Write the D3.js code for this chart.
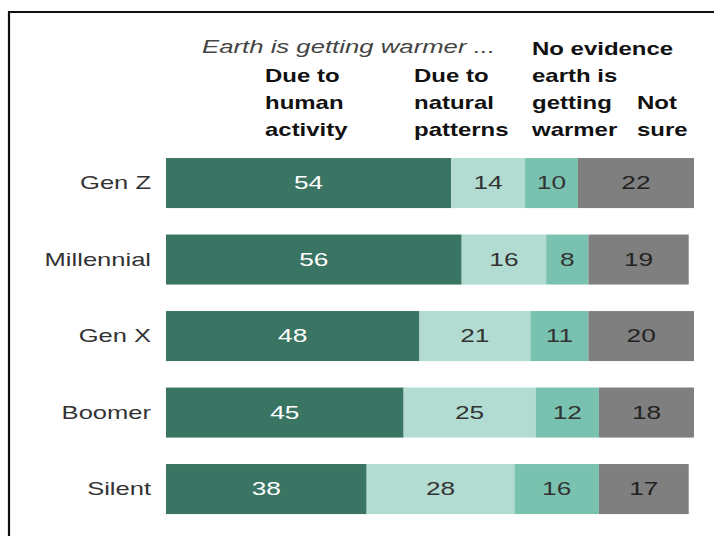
<!DOCTYPE html>
<html>
<head>
<meta charset="utf-8">
<script src="https://cdn.jsdelivr.net/npm/d3@7"></script>
<style>
  html, body { margin: 0; padding: 0; background: #fff; }
  svg { display: block; }
  text { font-family: "Liberation Sans", Arial, sans-serif; }
</style>
</head>
<body>
<script>
// Generations and the share holding each view on climate change (%)
const generations = ["Gen Z", "Millennial", "Gen X", "Boomer", "Silent"];
const humanActivity   = [54, 56, 48, 45, 38];
const naturalPatterns = [14, 16, 21, 25, 28];
const noEvidence      = [10, 8, 11, 12, 16];
const notSure         = [22, 19, 20, 18, 17];

const seriesNames = ["Due to human activity", "Due to natural patterns",
                     "No evidence earth is getting warmer", "Not sure"];
const seriesValues = [humanActivity, naturalPatterns, noEvidence, notSure];
const seriesColors = ["#3a7462", "#b2dcd2", "#79c2b0", "#7f7f7f"];
const labelColors  = ["#ffffff", "#333333", "#333333", "#222222"];

// Column headings (lines of each header)
const headerTitle = "Earth is getting warmer ...";
const headers = [
  ["Due to", "human", "activity"],
  ["Due to", "natural", "patterns"],
  ["No evidence", "earth is", "getting", "warmer"],
  ["Not", "sure"]
];

const W = 714, H = 536;
const svg = d3.select("body").append("svg").attr("width", W).attr("height", H);

// Frame: rule along the top and left edge
svg.append("line").attr("x1", 9).attr("x2", W).attr("y1", 12).attr("y2", 12)
  .attr("stroke", "#111").attr("stroke-width", 2.2);
svg.append("line").attr("x1", 9).attr("x2", 9).attr("y1", 11).attr("y2", H)
  .attr("stroke", "#111").attr("stroke-width", 2.2);

const x = d3.scaleLinear().domain([0, 100]).range([166, 694]);
const y = d3.scaleBand().domain(generations).range([144.8, 527.3])
  .paddingInner(0.346).paddingOuter(0.173);

// Stack the four answers per generation
const rows = generations.map((g, i) => {
  const r = { gen: g };
  seriesNames.forEach((s, k) => r[s] = seriesValues[k][i]);
  return r;
});
const stacked = d3.stack().keys(seriesNames)(rows);

// Horizontally widened text helper
function stretched(sel, sx) {
  return sel.attr("transform", function () {
    const tx = +this.getAttribute("data-x"), ty = +this.getAttribute("data-y");
    return `translate(${tx},${ty}) scale(${sx},1)`;
  });
}

const layers = svg.append("g").selectAll("g").data(stacked).join("g")
  .attr("fill", (d, k) => seriesColors[k]);

layers.selectAll("rect").data(d => d).join("rect")
  .attr("x", d => x(d[0]))
  .attr("width", d => x(d[1]) - x(d[0]))
  .attr("y", d => y(d.data.gen))
  .attr("height", y.bandwidth());

// Value labels centred in each segment
const vl = svg.append("g");
stacked.forEach((layer, k) => {
  vl.selectAll(null).data(layer).join("text")
    .attr("data-x", d => (x(d[0]) + x(d[1])) / 2)
    .attr("data-y", d => y(d.data.gen) + y.bandwidth() / 2)
    .attr("dy", "0.36em")
    .attr("text-anchor", "middle")
    .attr("font-size", 17.5)
    .attr("fill", labelColors[k])
    .text(d => d[1] - d[0])
    .call(stretched, 1.5);
});

// Generation labels
svg.append("g").selectAll("text").data(generations).join("text")
  .attr("data-x", 151)
  .attr("data-y", d => y(d) + y.bandwidth() / 2)
  .attr("dy", "0.36em")
  .attr("text-anchor", "end")
  .attr("font-size", 17.5)
  .attr("fill", "#333")
  .text(d => d)
  .call(stretched, 1.46);

// Header block
svg.append("text")
  .attr("data-x", 202).attr("data-y", 53)
  .attr("font-size", 17.5).attr("font-style", "italic").attr("fill", "#444")
  .text(headerTitle)
  .call(stretched, 1.47);

const headerX = [265, 414, 532, 637];
const baseLines = [55, 82, 109, 135.5];
headers.forEach((lines, k) => {
  const offset = baseLines.length - lines.length;
  svg.append("g").selectAll("text").data(lines).join("text")
    .attr("data-x", headerX[k])
    .attr("data-y", (d, i) => baseLines[i + offset])
    .attr("font-size", 17.5).attr("font-weight", "bold").attr("fill", "#111")
    .text(d => d)
    .call(stretched, 1.37);
});
</script>
</body>
</html>
